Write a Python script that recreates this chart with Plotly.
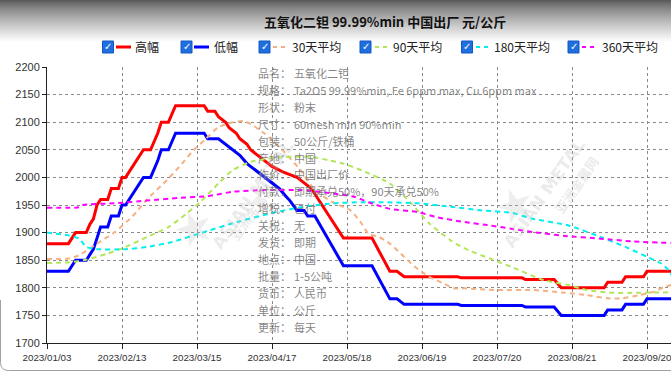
import plotly.graph_objects as go

# ---------------- data ----------------
title_text = "五氧化二钽 99.99%min 中国出厂 元/公斤"
tick_idx = [0, 21, 42, 63, 84, 105, 126, 147, 168]
tick_labels = ["2023/01/03", "2023/02/13", "2023/03/15", "2023/04/17", "2023/05/18",
               "2023/06/19", "2023/07/20", "2023/08/21", "2023/09/20"]

high_x = [0, 6, 8, 11, 12, 13, 14, 15, 17, 18, 20, 21, 22, 24, 25, 27, 29, 30, 31, 32, 34, 35, 36, 44,
          45, 47, 48, 50, 51, 53, 54, 56, 57, 59, 61, 63, 66, 70, 72, 74, 76, 77, 80, 83, 91, 96, 98,
          100, 115, 116, 133, 134, 142, 144, 156, 157, 161, 162, 167, 168, 175]
high_y = [1880, 1880, 1900, 1900, 1915, 1925, 1950, 1960, 1960, 1980, 1980, 2000, 2000, 2020, 2030,
          2050, 2050, 2065, 2080, 2100, 2100, 2115, 2130, 2130,
          2120, 2120, 2110, 2100, 2090, 2080, 2070, 2060, 2050, 2040, 2030, 2020, 2010, 2000, 1990,
          1980, 1960, 1950, 1920, 1890, 1890, 1830, 1830,
          1820, 1820, 1818, 1818, 1815, 1815, 1800, 1800, 1810, 1810, 1820, 1820, 1830, 1830]

low_x = [0, 6, 8, 11, 12, 13, 14, 15, 17, 18, 20, 21, 22, 24, 25, 27, 29, 30, 31, 32, 34, 35, 36, 44,
         45, 48, 50, 52, 54, 56, 58, 61, 63, 65, 67, 68, 70, 72, 73, 75, 83, 91, 96, 98,
         100, 115, 116, 133, 134, 142, 144, 156, 157, 161, 162, 167, 168, 175]
low_y = [1830, 1830, 1850, 1850, 1860, 1870, 1890, 1910, 1910, 1930, 1930, 1950, 1950, 1970, 1980,
         2000, 2000, 2015, 2030, 2050, 2050, 2065, 2080, 2080,
         2070, 2070, 2060, 2050, 2040, 2025, 2015, 2000, 1990, 1980, 1965, 1958, 1940, 1940, 1930,
         1930, 1840, 1840, 1780, 1780,
         1770, 1770, 1768, 1768, 1765, 1765, 1750, 1750, 1760, 1760, 1770, 1770, 1780, 1780]

ma30_x = [0, 6, 9, 14, 19, 24, 28, 34, 37, 41, 44, 48, 52, 55, 57, 61, 66, 71, 75, 80, 85, 88, 90,
          93, 96, 100, 103, 107, 111, 114, 117, 126, 136, 145, 151, 157, 161, 166, 170, 173, 175]
ma30_y = [1852, 1853, 1859, 1880, 1901, 1930, 1960, 1998, 2019, 2049, 2067, 2091, 2100, 2102, 2097,
          2079, 2049, 2013, 1977, 1955, 1940, 1917, 1898, 1892, 1880, 1856, 1838, 1820, 1808, 1799,
          1799, 1796, 1796, 1791, 1787, 1781, 1781, 1787, 1793, 1802, 1805]

ma90_x = [0, 6, 11, 17, 22, 28, 34, 39, 43, 48, 52, 57, 62, 67, 74, 79, 83, 88, 96, 102, 107, 113,
          118, 124, 130, 139, 146, 151, 158, 166, 175]
ma90_y = [1845, 1846, 1851, 1862, 1874, 1892, 1910, 1934, 1956, 1989, 2013, 2028, 2034, 2037, 2037,
          2031, 2025, 2013, 1989, 1953, 1917, 1886, 1868, 1853, 1838, 1814, 1805, 1796, 1791, 1791,
          1792]

ma180_x = [0, 6, 9, 11, 14, 22, 28, 35, 43, 52, 62, 71, 80, 88, 94, 104, 113, 122, 130, 136, 146,
           155, 162, 168, 172, 174, 175]
ma180_y = [1900, 1895, 1889, 1874, 1870, 1870, 1874, 1883, 1899, 1917, 1934, 1946, 1953, 1955, 1955,
           1953, 1947, 1940, 1936, 1925, 1913, 1892, 1874, 1856, 1844, 1832, 1822]

ma360_x = [0, 9, 10, 19, 28, 37, 45, 52, 61, 71, 80, 86, 90, 96, 104, 109, 117, 124, 130, 136, 145,
           155, 164, 175]
ma360_y = [1945, 1946, 1950, 1953, 1958, 1963, 1966, 1974, 1977, 1977, 1971, 1965, 1955, 1943, 1937,
           1928, 1919, 1913, 1907, 1901, 1894, 1889, 1884, 1881]

series_names = ["高幅", "低幅", "30天平均", "90天平均", "180天平均", "360天平均"]
info_labels = ["品名：", "规格：", "形状：", "尺寸：", "包装：", "产地：", "作价：", "付款：",
               "增税：", "关税：", "发货：", "地点：", "批量：", "货币：", "单位：", "更新："]
info_values = ["五氧化二钽", "Ta2O5 99.99%min, Fe 6ppm max, Cu 6ppm max", "粉末",
               "60mesh min 90%min", "50公斤/铁桶", "中国", "中国出厂价", "即期承兑50%，90天承兑50%",
               "已付", "无", "即期", "中国", "1-5公吨", "人民币", "公斤", "每天"]

# ---------------- layout helpers ----------------
W, H = 671, 376
L, T, B = 47, 67, 33
PW, PH = W - L, H - T - B


def xp(px):
    return (px - L) / PW


def yp(py):
    return (H - B - py) / PH


colors = ["#ff0000", "#0000ff", "#f4b183", "#b4e65a", "#00f0f0", "#ff00ff"]
xs = [high_x, low_x, ma30_x, ma90_x, ma180_x, ma360_x]
ys = [high_y, low_y, ma30_y, ma90_y, ma180_y, ma360_y]

fig = go.Figure()
for i in range(6):
    dashed = i >= 2
    fig.add_trace(go.Scatter(
        x=xs[i], y=ys[i], mode="lines", name=series_names[i],
        line=dict(color=colors[i], width=2 if dashed else 3,
                  dash="5px,4px" if dashed else "solid",
                  shape="spline" if dashed else "linear", smoothing=0.6 if dashed else None),
        showlegend=False, hoverinfo="skip"))

shapes = []
annotations = []

# header gradient
for k in range(42):
    t = k / 41
    g = int(90 + (255 - 90) * (t ** 0.8))
    shapes.append(dict(type="rect", xref="paper", yref="paper", layer="below",
                       x0=xp(0), x1=xp(W), y0=yp(k + 1), y1=yp(k),
                       fillcolor=f"rgb({g},{g},{g})", line=dict(width=0)))

# bottom rounded border
r = 8
path = (f"M {xp(0.5)},{yp(300)} L {xp(0.5)},{yp(370.5 - r)} "
        f"Q {xp(0.5)},{yp(370.5)} {xp(0.5 + r)},{yp(370.5)} L {xp(W + 5)},{yp(370.5)}")
shapes.append(dict(type="path", xref="paper", yref="paper", path=path,
                   line=dict(color="#a0a0a0", width=1), layer="below"))

# title
annotations.append(dict(text="<b>" + title_text + "</b>", xref="paper", yref="paper",
                        x=xp(385), y=yp(22), showarrow=False, xanchor="center", yanchor="middle",
                        font=dict(family="Noto Sans CJK SC", size=13, color="#111")))

# custom legend with checkboxes
cb_x = [102.5, 181, 259, 360, 461.5, 568]
ln_x = [(116, 131), (194, 209), (273, 287), (375, 389), (476, 490), (582, 596)]
tx_x = [133, 212, 290, 391, 492, 600]
ly = 47
for i in range(6):
    shapes.append(dict(type="rect", xref="paper", yref="paper",
                       x0=xp(cb_x[i]), x1=xp(cb_x[i] + 11), y0=yp(ly + 6), y1=yp(ly - 6),
                       fillcolor="#1f6fe0", line=dict(color="#1558c0", width=1)))
    annotations.append(dict(text="✓", xref="paper", yref="paper", x=xp(cb_x[i] + 5.5), y=yp(ly),
                            showarrow=False, xanchor="center", yanchor="middle",
                            font=dict(family="DejaVu Sans", size=10, color="white")))
    dashed = i >= 2
    shapes.append(dict(type="line", xref="paper", yref="paper",
                       x0=xp(ln_x[i][0]), x1=xp(ln_x[i][1]), y0=yp(ly), y1=yp(ly),
                       line=dict(color=colors[i], width=2 if dashed else 3,
                                 dash="4px,4px" if dashed else "solid")))
    annotations.append(dict(text=series_names[i], xref="paper", yref="paper", x=xp(tx_x[i]),
                            y=yp(ly), showarrow=False, xanchor="left", yanchor="middle",
                            font=dict(family="Noto Sans CJK SC", size=12, color="#222")))

# info text block
for k in range(len(info_labels)):
    py = 73 + 16.9 * k
    annotations.append(dict(text=info_labels[k], xref="paper", yref="paper", x=xp(256), y=yp(py),
                            showarrow=False, xanchor="left", yanchor="middle",
                            font=dict(family="Noto Sans CJK SC", size=11, color="rgba(110,110,110,0.85)")))
    annotations.append(dict(text=info_values[k], xref="paper", yref="paper", x=xp(292), y=yp(py),
                            showarrow=False, xanchor="left", yanchor="middle",
                            font=dict(family="Noto Sans CJK SC", size=11, color="rgba(110,110,110,0.85)")))

# watermarks
wm = "rgba(185,185,185,0.30)"
for (ax, ay, bx, by, sx, sy) in [(205, 195, 222, 212, 162, 228), (592, 132, 606, 150, 546, 205)]:
    annotations.append(dict(text="<b>ASIAN METAL</b>", xref="paper", yref="paper", x=xp(ax), y=yp(ay),
                            showarrow=False, textangle=-55,
                            font=dict(family="DejaVu Sans", size=17, color=wm)))
    annotations.append(dict(text="<b>亚洲金属网</b>", xref="paper", yref="paper", x=xp(bx), y=yp(by),
                            showarrow=False, textangle=-55,
                            font=dict(family="Noto Sans CJK SC", size=13, color=wm)))
    annotations.append(dict(text="★", xref="paper", yref="paper", x=xp(sx), y=yp(sy),
                            showarrow=False, textangle=-20,
                            font=dict(family="DejaVu Sans", size=46, color="rgba(190,190,190,0.25)")))

fig.update_layout(
    width=W, height=H, margin=dict(l=L, r=0, t=T, b=B, autoexpand=False),
    paper_bgcolor="white", plot_bgcolor="white",
    shapes=shapes, annotations=annotations, showlegend=False,
    font=dict(family="Liberation Sans", size=11, color="#333"),
)
fig.update_xaxes(range=[0, PW / (75 / 21)], tickmode="array", tickvals=tick_idx, ticktext=tick_labels,
                 showgrid=True, gridcolor="#8a8a8a", griddash="dot", gridwidth=1,
                 showline=True, linecolor="#222", linewidth=1, ticks="outside", ticklen=5,
                 tickcolor="#222", zeroline=False,
                 tickfont=dict(family="Liberation Sans", size=9.8, color="#333"),
                 ticklabeloverflow="allow")
fig.update_yaxes(range=[1700, 2200], dtick=50, tick0=1700,
                 showgrid=True, gridcolor="#8a8a8a", griddash="dot", gridwidth=1,
                 showline=True, linecolor="#222", linewidth=1, ticks="outside", ticklen=4,
                 tickcolor="#222", zeroline=False, tickfont=dict(size=11, color="#333"),
                 ticklabeloverflow="allow")

fig.write_html("out.html", config={"displayModeBar": False},
               post_script="document.body.style.margin='0';document.body.style.overflow='hidden';")
